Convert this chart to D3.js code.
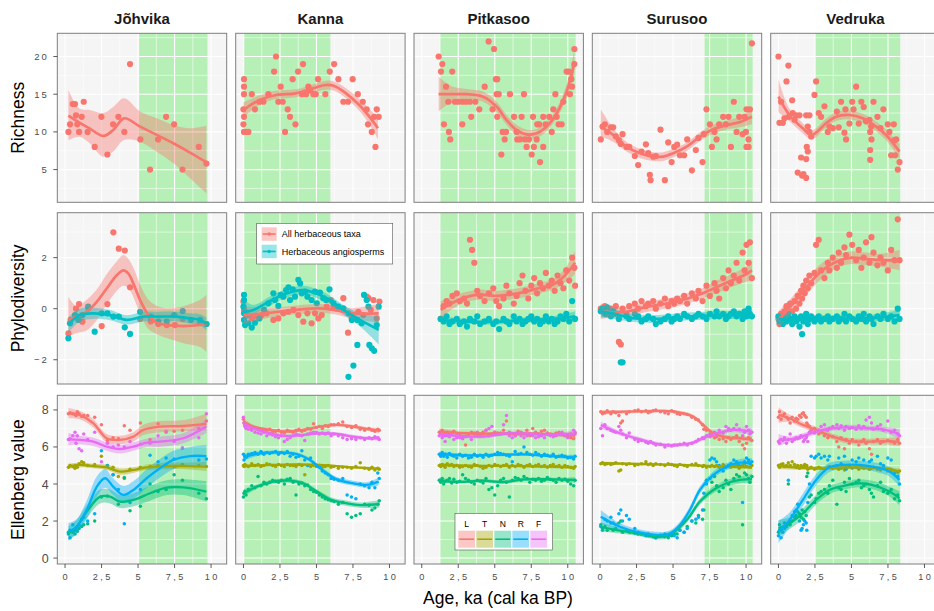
<!DOCTYPE html>
<html>
<head>
<meta charset="utf-8">
<script src="https://cdn.jsdelivr.net/npm/d3@7"></script>
<style>
  body { margin: 0; background: #fff; }
  svg text { font-family: "Liberation Sans", Arial, Helvetica, sans-serif; }
</style>
</head>
<body>
<svg id="chart" width="934" height="611"></svg>
<script>
// ---------------- data ----------------
var sites = ["Jõhvika", "Kanna", "Pitkasoo", "Surusoo", "Vedruka"];
var zoneStart = [5.07, 0.06, 1.27, 7.16, 2.51];
var zoneEnd = [9.75, 5.95, 10.54, 10.45, 8.34];
var xTicks = [0, 2.5, 5, 7.5, 10];
var xTickLabels = ["0", "2,5", "5", "7,5", "10"];
var rowTitles = ["Richness", "Phylodiversity", "Ellenberg value"];
var ellNames = ["L", "T", "N", "R", "F"];
var groupNames = ["All herbaceous taxa", "Herbaceous angiosperms"];

// richness, flat [age, value, ...]
var richJohvika = [0.23,10, 0.34,11, 0.53,13.7, 0.68,13.7, 0.75,12.2, 0.84,11, 0.96,10, 1.14,12, 1.28,14, 1.55,10,
  2.03,8, 2.49,12, 2.9,7, 3.29,11, 3.65,12, 4.06,10, 4.45,19, 5.16,9, 5.82,5, 6.37,9, 6.92,12, 7.47,11, 8.04,5, 9.16,8, 9.68,5.8];
var richKanna = [0.04,17, 0.04,16, 0.04,15, 0,13, 0.04,12, 0,11, 0.04,10, 0.18,10, 0.34,10, 0.57,15, 0.79,13, 1.09,14,
  1.37,14, 1.71,15, 2.1,18, 2.23,20, 2.55,16, 2.39,14, 2.69,14, 2.85,10, 3.03,13, 3.19,12, 3.37,17, 3.56,11, 3.74,18,
  4.08,19, 4.01,15, 4.29,15, 4.45,16, 4.56,15.5, 4.79,15, 4.95,15, 5.11,17, 5.61,15, 5.91,18, 6.21,19, 6.5,17, 6.84,14,
  7.16,14, 7.48,17, 7.83,15, 8.17,14, 8.44,13, 8.53,11, 8.79,10, 8.95,12, 9.13,13, 9.26,12, 9.04,8];
var richPitkasoo = [1.16,20, 1.41,19, 1.32,18, 1.66,16, 2.09,18, 1.82,14, 1.52,11, 1.86,10, 1.95,9, 2.27,14, 2.5,14,
  2.78,14, 3.03,14, 3.3,14, 3.67,14, 2.78,11, 3.39,12, 3.94,13, 4.31,16, 4.58,22, 4.95,21, 5.08,17, 5.17,17, 5.13,15,
  5.27,15, 4.85,13, 5.17,12, 5.54,10, 5.45,7, 5.77,10, 5.68,9, 6.04,15, 6.32,12, 6.5,10, 6.84,12, 6.54,9, 7.0,15, 6.73,9,
  7.07,9, 7.34,9, 7.18,8, 7.53,7, 7.62,12, 7.68,8, 7.87,9, 8.1,6, 8.32,8, 7.91,11, 8.32,12, 8.48,11, 8.73,12, 8.9,10,
  9.01,13, 9.15,15, 9.24,12, 9.37,11, 9.58,11, 9.69,14, 9.92,18, 10.15,15, 10.29,16, 10.45,19, 10.45,21, 10.06,18, 10.24,17, 8.05,11];
var richSurusoo = [0.05,9, 0.17,10.7, 0.33,11, 0.49,10, 0.74,10.6, 0.9,10.6, 1.08,9.4, 1.29,8.9, 1.42,8.4, 1.54,9.7,
  1.81,8, 2.0,8, 2.38,6.8, 2.61,5.6, 2.84,7.4, 3.14,8.35, 3.3,7.2, 3.41,4.3, 3.46,3.6, 3.64,6.7, 3.82,6.8, 4.14,10.3,
  4.44,3.6, 4.67,8.6, 4.9,6, 5.08,8, 5.28,8.3, 5.47,6.9, 5.76,6.9, 5.97,9, 6.29,4.9, 6.56,7.6, 6.74,9.2, 7.02,6, 7.11,9.7,
  7.29,13, 7.52,11, 7.66,8, 7.84,10, 7.98,9, 8.16,11, 8.43,12, 8.62,11, 8.8,12, 8.96,8, 9.16,14, 9.35,10, 9.53,12,
  9.76,9.7, 9.9,12, 10.03,13, 10.26,13, 10.03,8, 10.17,9, 10.17,8, 9.99,10, 10.4,21.75];
var richVedruka = [0,20, 0.68,18.8, 0.55,16.7, 0.18,14, 0.94,14.2, 0.07,11.2, 0.3,11.2, 0.41,11.8, 0.71,12, 0.98,12.5,
  1.21,12.2, 1.44,12.2, 1.1,11.6, 1.9,12.2, 2.12,12.2, 2.01,10.7, 2.12,10, 2.24,9.4, 1.94,8, 2.01,7.4, 1.55,6.6, 1.9,6.4,
  1.32,4.6, 1.62,4.2, 1.9,3.9, 1.71,4.4, 2.58,16.7, 2.47,14.9, 2.76,12.5, 2.92,12, 3.15,13.4, 3.38,10, 3.49,10.7,
  3.72,10.5, 4.0,12.7, 4.13,10.6, 4.29,14, 4.52,9.9, 4.63,9, 4.59,13, 4.86,11.1, 5.05,14, 5.14,13, 5.32,16, 5.5,11.1,
  5.68,14, 5.84,13.3, 6.0,11.4, 6.23,11.6, 6.35,10.7, 6.51,14, 6.28,10, 6.37,9, 6.28,7.6, 6.28,6.3, 6.78,12, 6.99,10.5,
  7.19,13, 7.49,11, 7.6,10, 7.72,6.9, 7.9,11, 7.95,8.9, 8.06,9, 8.17,5, 8.29,6, 7.99,6.9];

// smooth fits [age, fit, lower, upper]
var richJohvikaFit = [[0.23,12.15,8.9,15.56],[0.99,11.22,9.36,13.1],[1.68,10.47,8.5,12.9],[2.62,9.46,6.7,12.5],[3.3,10.25,7.4,13.3],
  [4.04,11.8,8.93,14.45],[5.14,10.7,8.7,12.7],[6.28,9.6,7.37,11.8],[7.42,8.5,5.84,10.9],[8.56,7.25,3.85,10.47],[9.68,5.97,1.85,10.8]];
var richKannaFit = [[0,12.9,11.9,13.9],[1.1,14.23,13.6,14.85],[2.23,14.9,14.35,15.45],[3.6,15.12,14.6,15.65],[4.74,15.78,15.25,16.3],
  [5.65,16.22,15.6,16.8],[6.22,16.09,15.45,16.7],[7.02,15.12,14.45,15.8],[7.93,13.57,12.8,14.35],[8.62,12.02,11.0,13.05],[9.21,10.48,9.0,11.9]];
var richPitkasooFit = [[1.16,15.0,12.7,17.3],[2.0,15.0,13.9,16.1],[3.08,15.0,14.3,15.7],[4.2,14.67,14.0,15.35],[5.13,13.34,12.65,14.0],
  [5.81,11.57,10.9,12.25],[6.5,10.25,9.6,10.9],[7.18,9.68,9.1,10.3],[7.87,9.81,9.2,10.4],[8.55,10.7,10.1,11.3],[9.24,12.47,11.8,13.15],
  [9.92,15.33,14.4,16.3],[10.45,19.1,17.5,20.8]];
var richSurusooFit = [[0.05,10.7,9.4,13.0],[0.9,9.6,8.7,10.5],[1.81,8.04,7.4,8.7],[2.73,7.16,6.55,7.75],[3.64,6.72,6.15,7.3],
  [4.33,6.72,6.15,7.3],[5.01,7.16,6.6,7.75],[5.93,8.04,7.45,8.6],[6.84,9.37,8.8,9.95],[7.75,10.35,9.75,10.95],[8.67,10.9,10.3,11.5],
  [9.58,11.3,10.6,12.0],[10.4,12.0,11.0,13.0]];
var richVedrukaFit = [[0,14.67,12.6,17.0],[0.75,12.24,11.4,13.1],[1.67,10.47,9.8,11.15],[2.24,9.59,9.0,10.2],[2.58,9.9,9.3,10.5],
  [3.26,11.14,10.55,11.75],[3.95,12.02,11.45,12.6],[4.86,12.24,11.65,12.85],[5.77,11.8,11.2,12.4],[6.69,10.69,10.05,11.35],
  [7.37,9.59,8.9,10.3],[8.29,7.38,6.4,8.4]];

// phylodiversity, flat [age, value, ...]
var pdAllJohvika = [0.23,-0.97, 0.38,-0.44, 0.75,0.0, 0.96,0.18, 1.19,-0.51, 1.6,0.01, 2.51,-0.68, 2.9,0.18, 3.31,2.99,
  3.68,2.35, 4.09,2.28, 4.45,0.84, 5.14,-0.4, 5.87,-0.5, 6.39,-0.6, 6.96,-0.64, 7.53,-0.64, 8.06,-0.4, 9.25,-0.55, 9.68,-0.6];
var pdAngJohvika = [0.23,-1.16, 0.34,-0.57, 0.68,-0.25, 0.91,-0.44, 1.19,-0.25, 1.58,0.08, 2.03,-0.9, 2.51,-0.18, 2.9,-0.18,
  3.31,-0.31, 3.68,-0.31, 4.09,-0.73, 4.45,-0.99, 5.14,-0.12, 5.87,-0.31, 6.39,-0.51, 6.96,-0.51, 7.47,-0.25, 8.06,-0.09,
  8.61,-0.44, 9.25,-0.44, 9.68,-0.6];
var pdAllKanna = [0,0.28, 0.04,-0.05, 0.22,-0.25, 0.57,-0.38, 0.91,-0.31, 1.25,-0.25, 1.59,-0.18, 2.05,-0.44, 2.39,-0.38,
  2.73,-0.18, 3.08,-0.12, 3.42,-0.05, 3.76,-0.25, 4.1,-0.51, 4.38,-0.18, 4.67,-0.57, 4.9,-0.18, 5.13,-0.38, 5.36,-0.25,
  5.7,0.08, 5.98,0.34, 6.16,0.08, 6.39,0.01, 6.84,0.41, 7.16,-0.94, 7.42,-0.38, 7.87,-0.12, 8.21,-0.25, 8.44,0.47,
  8.56,0.41, 8.72,-0.05, 8.9,0.34, 9.13,-0.38, 9.31,0.28];
var pdAngKanna = [0.04,0.54, 0.04,0.34, 0,0.08, 0.04,-0.18, 0.04,-0.44, 0.11,-0.64, 0.34,-0.57, 0.57,-0.74, 0.79,-0.55,
  1.09,-0.38, 1.41,-0.05, 1.71,0.21, 2.05,0.6, 2.16,0.34, 2.39,0.11, 2.55,0.54, 2.73,0.47, 2.92,0.73, 3.08,0.84, 3.19,0.34,
  3.37,0.76, 3.53,0.47, 3.76,1.13, 3.88,0.99, 3.99,0.6, 4.22,0.67, 4.38,0.47, 4.67,0.34, 4.9,0.67, 5.02,0.21, 5.24,0.63,
  5.47,0.41, 5.66,0.34, 5.89,0.76, 6.16,0.21, 6.5,0.08, 6.84,0.01, 7.19,-0.18, 7.42,-0.44, 7.8,-0.44, 8.1,-0.57, 8.26,0.54,
  8.44,0.34, 7.8,-1.42, 7.53,-2.23, 7.19,-2.67, 8.62,-1.42, 8.79,-1.55, 8.95,-1.65, 9.13,-0.64, 9.26,0.08, 8.56,0.08];
var pdAllPitkasoo = [1.3,-0.4, 1.5,0.1, 1.7,0.3, 1.9,0.2, 2.1,0.5, 2.4,0.6, 2.6,0.3, 2.9,0.4, 3.1,0.2, 3.3,2.7, 3.45,2.3,
  3.6,1.8, 3.8,0.7, 4.0,0.5, 4.3,0.3, 4.6,0.6, 4.9,0.8, 5.1,0.3, 5.3,0.1, 5.6,0.4, 5.8,0.9, 6.0,0.6, 6.3,0.2, 6.5,0.5,
  6.7,1.0, 6.9,1.3, 7.1,0.7, 7.3,0.4, 7.5,0.9, 7.7,1.2, 7.9,0.6, 8.1,1.0, 8.3,0.8, 8.5,1.4, 8.7,0.9, 8.9,1.1, 9.1,0.7,
  9.3,1.3, 9.5,1.0, 9.7,0.8, 9.9,1.5, 10.1,1.1, 10.3,2.0, 10.45,1.6, 10.5,0.9];
var pdAngPitkasoo = [1.3,-0.4, 1.5,-0.5, 1.7,-0.3, 1.9,-0.6, 2.1,-0.5, 2.4,-0.4, 2.6,-0.6, 2.9,-0.5, 3.1,-0.7, 3.3,-0.4,
  3.6,-0.5, 3.8,-0.3, 4.0,-0.6, 4.3,-0.5, 4.6,-0.4, 4.9,-0.6, 5.1,-0.5, 5.3,-0.8, 5.6,-0.4, 5.8,-0.5, 6.0,-0.6, 6.3,-0.3,
  6.5,-0.5, 6.7,-0.4, 6.9,-0.6, 7.1,-0.5, 7.3,-0.4, 7.5,-0.3, 7.7,-0.5, 7.9,-0.4, 8.1,-0.6, 8.3,-0.5, 8.5,-0.3, 8.7,-0.5,
  8.9,-0.4, 9.1,-0.6, 9.3,-0.5, 9.5,-0.3, 9.7,-0.4, 9.9,-0.2, 10.1,-0.5, 10.3,0.3, 10.5,-0.4];
var pdAllSurusoo = [0.05,0.0, 0.17,-0.1, 0.33,0.1, 0.49,-0.2, 0.74,0.0, 0.9,-0.1, 1.08,0.1, 1.29,-1.3, 1.42,-1.4, 1.54,0.0,
  1.81,-0.2, 2.0,0.1, 2.38,0.2, 2.61,0.0, 2.84,0.3, 3.14,0.1, 3.3,0.2, 3.64,0.3, 3.82,0.0, 4.14,0.2, 4.44,0.4, 4.67,0.1,
  4.9,0.3, 5.08,0.2, 5.28,0.4, 5.47,0.3, 5.76,0.5, 5.97,0.2, 6.29,0.6, 6.56,0.4, 6.74,0.7, 7.02,0.3, 7.29,0.9, 7.52,0.5,
  7.84,1.0, 7.98,0.7, 8.16,0.4, 8.43,1.2, 8.62,0.8, 8.8,1.5, 8.96,1.0, 9.16,1.3, 9.35,1.8, 9.53,1.1, 9.76,2.2, 9.9,1.5,
  10.03,2.5, 10.17,1.8, 10.26,2.6, 10.4,1.2];
var pdAngSurusoo = [0.05,-0.1, 0.17,0.0, 0.33,-0.2, 0.49,0.05, 0.74,-0.3, 0.9,-0.1, 1.08,-0.2, 1.29,-0.4, 1.42,-2.1,
  1.54,-2.1, 1.81,-0.3, 2.0,-0.4, 2.38,-0.2, 2.61,-0.3, 2.84,-0.5, 3.14,-0.4, 3.3,-0.3, 3.64,-0.4, 3.82,-0.6, 4.14,-0.5,
  4.44,-0.4, 4.67,-0.3, 4.9,-0.5, 5.08,-0.4, 5.28,-0.3, 5.47,-0.4, 5.76,-0.2, 5.97,-0.3, 6.29,-0.4, 6.56,-0.3, 6.74,-0.2,
  7.02,-0.3, 7.29,-0.4, 7.52,-0.2, 7.84,-0.3, 7.98,-0.1, 8.16,-0.3, 8.43,-0.2, 8.62,-0.4, 8.8,-0.3, 8.96,-0.2, 9.16,-0.1,
  9.35,-0.3, 9.53,-0.2, 9.76,-0.4, 9.9,-0.1, 10.03,-0.3, 10.17,0.0, 10.26,-0.2, 10.4,-0.3];
var pdAllVedruka = [0,-0.4, 0.07,-0.6, 0.18,-0.2, 0.3,-0.5, 0.41,-0.1, 0.55,0.1, 0.68,-0.3, 0.8,0.2, 0.94,-0.1, 1.1,0.3,
  1.21,0.0, 1.32,0.5, 1.44,0.2, 1.55,0.7, 1.62,0.4, 1.71,0.9, 1.8,0.6, 1.9,1.1, 2.01,0.8, 2.12,1.3, 2.24,1.0, 2.47,1.4,
  2.58,2.5, 2.76,2.7, 2.92,1.5, 3.15,1.2, 3.38,1.8, 3.49,1.5, 3.72,2.0, 4.0,1.6, 4.13,2.2, 4.29,1.8, 4.52,2.4, 4.63,2.1,
  4.86,2.9, 5.05,2.5, 5.32,1.9, 5.5,2.3, 5.68,1.6, 5.84,2.0, 6.0,2.6, 6.23,1.8, 6.37,2.8, 6.51,2.2, 6.78,1.7, 6.99,2.0,
  7.19,1.8, 7.49,1.5, 7.72,2.3, 7.95,1.9, 8.17,3.5, 8.29,1.9];
var pdAngVedruka = [0,-0.3, 0.07,-0.5, 0.18,-0.4, 0.3,-0.6, 0.41,-0.3, 0.55,-0.5, 0.68,-0.2, 0.8,-0.4, 0.94,-0.6, 1.1,-0.3,
  1.21,-0.5, 1.32,-0.4, 1.44,-0.7, 1.55,-0.3, 1.62,-1.0, 1.71,-0.5, 1.8,-0.4, 1.9,-0.2, 2.01,-0.6, 2.12,-0.4, 2.24,-0.3,
  2.47,-0.5, 2.58,-0.4, 2.76,-0.3, 2.92,-0.5, 3.15,-0.4, 3.38,-0.3, 3.49,-0.5, 3.72,-0.4, 4.0,-0.3, 4.13,-0.5, 4.29,-0.4,
  4.52,-0.2, 4.63,-0.5, 4.86,-0.3, 5.05,-0.4, 5.32,-0.5, 5.5,-0.3, 5.68,-0.4, 5.84,-0.2, 6.0,-0.5, 6.23,-0.3, 6.37,-0.4,
  6.51,-0.6, 6.78,-0.3, 6.99,-0.4, 7.19,-0.2, 7.49,-0.4, 7.72,-0.3, 7.95,-0.5, 8.17,0.0, 8.29,-0.4];

var pdAllJohvikaFit = [[0.23,-0.44,-1.1,0.47],[0.8,-0.31,-0.95,0.1],[1.48,-0.12,-0.85,0.35],[2.17,0.27,-0.45,0.75],
  [2.85,0.79,0.15,1.35],[3.54,1.31,0.7,1.85],[3.99,1.5,0.9,2.1],[4.34,1.37,0.8,1.95],[4.68,0.98,0.45,1.6],[5.14,0.34,-0.2,0.95],
  [5.71,-0.25,-0.8,0.35],[6.28,-0.55,-1.0,0.12],[6.96,-0.64,-1.15,0.02],[8.11,-0.68,-1.35,0.1],[9.25,-0.64,-1.5,0.35],[9.68,-0.6,-1.7,0.55]];
var pdAngJohvikaFit = [[0.23,-0.64,-0.95,-0.33],[0.99,-0.25,-0.5,0.0],[1.94,-0.18,-0.4,0.04],[3.08,-0.25,-0.45,-0.05],
  [4.22,-0.44,-0.62,-0.26],[5.36,-0.31,-0.5,-0.12],[6.5,-0.31,-0.5,-0.12],[7.65,-0.31,-0.5,-0.12],[8.56,-0.38,-0.58,-0.18],
  [9.25,-0.44,-0.66,-0.22],[9.68,-0.6,-0.85,-0.35]];
var pdAllKannaFit = [[0,-0.25,-0.6,0.1],[1.5,-0.18,-0.38,0.02],[3.5,-0.05,-0.22,0.12],[5.2,0.01,-0.16,0.18],[6.2,-0.05,-0.22,0.12],
  [7.5,-0.18,-0.38,0.02],[9.26,-0.18,-0.55,0.19]];
var pdAngKannaFit = [[0,-0.12,-0.55,0.35],[0.68,-0.05,-0.25,0.15],[1.82,0.3,0.12,0.48],[2.96,0.6,0.43,0.77],[4.1,0.73,0.56,0.9],
  [5.24,0.54,0.37,0.71],[5.93,0.34,0.17,0.51],[6.84,-0.05,-0.24,0.14],[7.99,-0.44,-0.7,-0.18],[9.26,-0.83,-1.4,-0.28]];
var pdAllPitkasooFit = [[1.3,-0.05,-0.4,0.3],[2.0,0.2,-0.05,0.45],[3.0,0.45,0.25,0.65],[4.0,0.55,0.35,0.75],[5.0,0.5,0.3,0.7],
  [6.0,0.55,0.35,0.75],[7.0,0.65,0.45,0.85],[8.0,0.8,0.6,1.0],[9.0,0.95,0.75,1.15],[9.8,1.3,1.03,1.57],[10.5,1.8,1.35,2.25]];
var pdAngPitkasooFit = [[1.3,-0.45,-0.6,-0.3],[3,-0.5,-0.6,-0.4],[5,-0.52,-0.62,-0.42],[7,-0.45,-0.55,-0.35],[9,-0.4,-0.5,-0.3],
  [10.5,-0.3,-0.5,-0.1]];
var pdAllSurusooFit = [[0.05,-0.1,-0.4,0.2],[1,-0.15,-0.35,0.05],[2,-0.1,-0.3,0.1],[3,0.05,-0.15,0.25],[4,0.15,-0.05,0.35],
  [5,0.25,0.05,0.45],[6,0.4,0.2,0.6],[7,0.6,0.4,0.8],[8,0.85,0.6,1.1],[9,1.1,0.85,1.35],[10,1.35,1.05,1.65],[10.4,1.5,1.1,1.9]];
var pdAngSurusooFit = [[0.05,-0.1,-0.35,0.15],[1,-0.2,-0.4,0.0],[2,-0.35,-0.5,-0.2],[3,-0.4,-0.55,-0.25],[4,-0.4,-0.55,-0.25],
  [5,-0.35,-0.5,-0.2],[6,-0.3,-0.45,-0.15],[7,-0.28,-0.43,-0.13],[8,-0.25,-0.4,-0.1],[9,-0.25,-0.4,-0.1],[10,-0.22,-0.4,-0.05],
  [10.4,-0.2,-0.4,0.0]];
var pdAllVedrukaFit = [[0,-0.45,-0.8,-0.1],[1,0.2,-0.1,0.5],[2,0.9,0.6,1.2],[3,1.5,1.2,1.8],[4,1.85,1.6,2.1],[5,2.0,1.75,2.25],
  [6,1.95,1.7,2.2],[7,1.9,1.65,2.15],[8.29,1.9,1.5,2.3]];
var pdAngVedrukaFit = [[0,-0.4,-0.6,-0.2],[1,-0.45,-0.6,-0.3],[2,-0.4,-0.55,-0.25],[4,-0.38,-0.5,-0.26],[6,-0.38,-0.5,-0.26],
  [8.29,-0.25,-0.45,-0.05]];

// Ellenberg values: sample ages per site, then one array per indicator
var ageJohvika = [0.23,0.34,0.53,0.68,0.75,0.84,0.96,1.14,1.28,1.55,2.03,2.49,2.9,3.29,3.65,4.06,4.45,5.16,5.82,6.37,6.92,7.47,8.04,9.16,9.68];
var ellLJohvika = [7.8,7.85,7.8,7.75,7.7,7.9,7.8,7.65,7.7,7.7,7.6,7.2,6.35,6.5,6.45,7.15,6.9,7.3,6.4,7.25,6.8,6.85,6.9,7.0,7.4];
var ellTJohvika = [4.9,5.0,4.95,4.85,5.0,4.9,5.1,5.2,5.15,5.0,5.05,5.5,5.0,4.9,4.4,4.3,4.8,4.9,4.95,5.0,5.0,4.95,5.05,5.0,4.95];
var ellNJohvika = [1.3,1.5,1.4,1.3,1.5,1.45,1.6,1.7,1.8,1.85,2.0,3.3,3.35,4.5,2.9,4.35,2.55,2.8,4.0,3.6,3.7,4.5,4.2,3.5,3.2];
var ellRJohvika = [1.4,1.1,1.8,1.5,1.6,1.7,1.8,2.1,2.2,2.0,2.4,5.8,5.0,4.5,3.7,1.85,3.0,3.7,5.55,5.2,5.4,5.35,5.95,5.3,5.35];
var ellFJohvika = [6.4,6.45,6.6,6.8,6.2,6.6,5.9,5.8,6.7,6.4,6.8,5.2,6.2,6.0,6.1,6.0,6.3,6.15,6.2,6.6,6.85,6.3,5.95,6.5,7.8];

var ageKanna = [0,0.04,0.1,0.18,0.34,0.57,0.79,1.0,1.2,1.4,1.6,1.8,2.0,2.2,2.4,2.6,2.8,3.0,3.2,3.4,3.6,3.8,4.0,4.2,4.4,
  4.6,4.8,5.0,5.2,5.4,5.6,5.8,6.0,6.2,6.5,6.8,7.1,7.4,7.7,8.0,8.3,8.6,8.8,9.0,9.2,9.3];
var ellLKanna = [7.5,7.3,7.2,7.1,7.15,7.0,7.05,6.95,6.9,6.85,6.9,6.95,6.8,6.85,6.9,6.8,6.75,6.9,6.85,6.8,6.9,6.95,6.85,6.9,7.0,
  6.95,7.25,7.05,7.1,7.0,7.15,7.1,7.2,7.2,7.25,7.35,7.1,7.05,7.15,6.95,6.9,7.0,6.9,6.85,6.95,6.9];
var ellTKanna = [5.0,4.95,5.05,5.0,4.95,5.1,5.0,5.05,4.95,5.0,5.1,5.05,5.0,4.95,5.05,5.0,4.95,5.05,5.0,5.0,4.95,5.05,5.0,4.5,5.0,
  4.95,5.0,4.95,5.0,4.9,4.95,5.0,4.9,4.95,4.85,4.9,4.9,4.85,4.95,5.15,4.85,4.8,4.9,4.75,4.85,4.8];
var ellNKanna = [3.3,3.5,3.6,3.4,3.7,3.9,3.8,4.4,3.9,4.1,4.0,4.1,4.2,4.15,4.1,4.2,4.0,4.25,4.3,4.1,3.4,4.0,4.05,3.9,3.95,
  3.7,3.6,3.55,3.4,3.3,3.2,3.15,3.1,3.05,2.9,3.0,2.4,2.2,2.3,2.4,2.9,2.85,2.6,2.7,2.9,3.1];
var ellRKanna = [5.6,5.3,5.5,5.45,5.6,5.65,5.7,5.6,5.75,5.6,5.7,5.65,5.7,5.75,5.6,5.7,5.65,5.75,5.5,5.6,5.45,5.5,5.8,5.3,5.0,
  5.4,5.1,5.0,4.9,4.7,4.6,4.5,4.3,4.25,4.2,4.3,3.4,3.3,3.2,4.0,3.9,3.8,4.1,3.8,4.6,4.3];
var ellFKanna = [7.6,7.3,7.1,7.0,6.95,6.9,6.8,6.75,6.7,6.8,6.6,6.7,6.65,6.55,6.5,6.6,6.3,6.4,6.5,6.6,6.7,6.65,6.6,6.35,6.7,
  6.75,6.8,6.8,6.7,6.75,6.7,6.75,6.6,6.7,6.6,6.5,6.4,6.45,6.4,6.5,6.4,6.5,6.45,6.55,6.5,6.4];

var agePitkasoo = [1.2,1.3,1.4,1.5,1.6,1.75,1.9,2.05,2.2,2.4,2.6,2.8,3.0,3.2,3.4,3.6,3.8,4.0,4.2,4.4,4.6,4.8,5.0,5.2,5.4,
  5.6,5.8,6.0,6.2,6.4,6.6,6.8,7.0,7.2,7.4,7.6,7.8,8.0,8.2,8.4,8.6,8.8,9.0,9.2,9.4,9.6,9.8,10.0,10.2,10.4,10.5];
var ellLPitkasoo = [6.8,6.7,6.9,6.75,6.6,6.8,6.7,6.75,6.85,6.6,6.7,6.5,6.1,6.7,6.8,6.75,6.6,6.7,6.8,6.9,6.6,6.7,6.8,6.75,6.7,
  6.9,7.4,6.8,6.7,6.6,6.85,6.8,6.7,6.9,6.6,7.0,6.8,6.7,6.85,6.9,6.75,6.7,6.6,6.75,6.8,6.7,6.65,6.6,6.5,6.45,6.7];
var ellTPitkasoo = [5.0,4.95,5.05,5.0,4.9,5.1,5.0,5.05,4.95,5.0,4.9,4.95,5.0,4.95,4.9,5.05,5.0,4.95,4.85,4.9,5.0,4.95,5.05,5.0,4.95,
  5.0,5.05,4.9,5.0,4.95,5.05,5.0,4.9,5.0,5.05,4.95,5.0,5.05,4.95,5.0,4.9,5.0,5.05,4.95,5.0,4.9,5.0,4.95,4.9,4.85,4.95];
var ellNPitkasoo = [4.2,4.1,4.3,4.0,4.15,4.2,4.3,4.05,4.25,4.1,4.15,4.5,4.3,4.2,4.1,4.0,4.2,4.15,4.05,4.3,3.7,3.8,3.4,3.9,4.2,
  4.3,4.1,3.3,4.2,4.35,4.3,4.2,4.4,4.3,4.1,4.25,4.2,4.3,4.15,4.2,4.35,4.25,4.2,4.1,4.3,4.2,4.25,4.15,4.0,3.9,4.2];
var ellRPitkasoo = [5.6,5.5,5.7,5.5,5.6,5.45,5.65,5.55,5.5,5.4,5.6,5.5,5.55,5.4,5.45,5.6,5.5,5.55,5.45,5.6,5.5,5.55,5.6,5.7,5.65,
  5.6,5.55,5.5,5.2,5.75,5.6,5.65,6.0,5.7,5.6,5.55,5.7,5.6,5.5,5.6,5.55,5.5,5.6,5.45,5.5,5.55,5.5,5.4,5.45,5.35,5.5];
var ellFPitkasoo = [6.6,6.7,6.5,6.6,6.3,6.6,6.55,6.7,6.4,6.5,6.5,6.45,6.55,6.6,6.4,6.7,6.8,6.6,6.7,6.9,7.0,7.1,6.8,6.7,6.75,
  7.2,7.7,6.6,6.5,6.6,6.7,6.6,6.5,6.6,6.7,6.6,6.5,6.55,6.6,6.5,6.7,6.6,6.55,6.6,6.7,6.8,6.6,6.5,6.7,6.9,6.8];

var ageSurusoo = [0.05,0.17,0.33,0.49,0.74,0.9,1.08,1.29,1.42,1.54,1.81,2.0,2.38,2.61,2.84,3.14,3.3,3.46,3.64,3.82,4.14,4.44,
  4.67,4.9,5.08,5.28,5.47,5.76,5.97,6.29,6.56,6.74,7.02,7.11,7.29,7.52,7.66,7.84,7.98,8.16,8.43,8.62,8.8,8.96,9.16,9.35,9.53,
  9.76,9.9,10.03,10.17,10.26,10.4];
var ellLSurusoo = [7.9,7.8,7.85,7.95,7.8,7.9,7.85,7.7,7.3,7.4,7.8,7.9,7.95,8.0,7.9,7.95,7.85,7.9,7.95,8.0,7.9,7.85,7.8,7.95,7.9,
  7.8,7.75,7.8,7.75,7.6,7.5,7.45,7.2,6.95,6.9,6.7,6.6,6.5,6.55,6.4,6.45,6.3,6.5,6.4,6.5,6.6,6.3,6.1,5.9,6.2,6.5,6.45,6.35];
var ellTSurusoo = [5.1,5.15,5.05,5.1,5.05,5.1,5.15,4.7,4.75,5.1,5.05,5.1,5.0,5.05,5.1,5.2,5.05,5.1,5.0,5.1,5.05,5.0,5.1,5.05,5.0,
  4.95,5.05,5.0,4.95,5.05,5.1,5.0,4.95,5.0,4.9,4.95,5.0,4.95,5.0,4.9,5.05,4.95,5.0,4.9,4.95,5.0,4.85,5.0,5.1,4.95,5.2,4.9,5.0];
var ellNSurusoo = [1.8,1.6,1.7,1.5,1.9,1.5,1.6,1.9,2.0,1.4,1.5,1.4,1.35,1.3,1.3,1.25,1.2,1.2,1.15,1.1,1.2,1.15,1.1,1.2,1.3,
  1.3,1.5,1.4,1.7,2.0,1.9,2.3,2.1,2.6,4.2,4.3,4.1,4.4,3.9,3.6,3.8,4.2,4.0,3.7,4.3,4.5,4.4,1.8,4.6,4.5,4.3,4.1,4.4];
var ellRSurusoo = [1.7,1.5,2.1,2.0,2.2,1.9,1.8,2.4,2.6,2.0,2.3,2.1,1.6,1.4,1.3,1.2,1.3,1.25,1.2,1.1,1.25,1.3,1.2,1.3,1.2,
  1.1,1.5,1.4,1.6,2.0,2.1,2.2,2.6,3.5,4.0,5.3,5.4,5.35,5.2,5.0,4.7,4.9,5.0,5.1,5.3,5.2,5.0,3.0,5.2,5.4,5.3,5.1,5.2];
var ellFSurusoo = [7.0,6.6,7.2,7.0,6.9,6.85,6.8,7.1,6.9,6.7,6.5,6.75,6.4,6.3,6.35,6.25,6.2,6.3,6.2,6.1,6.15,6.0,6.1,6.05,6.1,
  6.1,6.15,6.2,6.1,6.2,6.3,6.4,6.5,6.45,6.6,6.55,6.7,6.8,6.65,6.9,6.75,7.1,7.0,6.9,7.0,7.2,6.95,6.6,6.8,7.1,6.9,6.7,6.8];

var ageVedruka = [0,0.07,0.18,0.3,0.41,0.55,0.68,0.8,0.94,1.1,1.21,1.32,1.44,1.55,1.62,1.71,1.8,1.9,1.94,2.01,2.12,2.24,2.47,
  2.58,2.76,2.92,3.15,3.38,3.49,3.72,4.0,4.13,4.29,4.52,4.63,4.86,5.05,5.32,5.5,5.68,5.84,6.0,6.23,6.37,6.51,6.78,6.99,7.19,
  7.49,7.72,7.95,8.17,8.29];
var ellLVedruka = [7.6,7.9,7.5,7.7,7.8,7.6,7.5,7.3,7.6,7.4,7.55,7.5,7.7,7.6,7.8,7.85,7.7,7.6,7.3,7.2,7.1,6.9,7.0,6.9,6.7,
  6.8,6.6,6.5,6.6,6.55,6.3,6.0,6.5,5.9,6.4,6.2,6.4,6.3,6.1,6.3,6.4,6.2,5.9,5.6,6.3,6.4,6.2,6.3,6.35,6.3,6.2,6.4,6.2];
var ellTVedruka = [5.0,4.9,5.05,5.1,4.95,5.0,5.15,5.0,5.2,5.05,4.9,5.0,4.85,5.0,4.9,4.95,5.05,4.9,5.0,4.8,4.85,4.9,4.8,4.85,4.9,
  4.85,4.8,4.9,4.95,4.85,4.9,4.8,4.85,4.75,4.9,5.0,4.85,4.9,4.8,4.9,4.85,4.9,4.8,4.85,4.9,4.8,4.75,4.9,4.7,4.75,4.6,4.65,4.7];
var ellNVedruka = [1.4,1.8,1.5,1.6,1.9,1.7,4.0,1.8,2.0,2.2,2.3,2.5,2.4,2.2,2.6,2.1,2.5,2.3,4.4,4.6,3.3,3.4,3.0,3.2,3.5,
  3.6,3.7,3.5,3.9,4.2,2.9,3.8,3.7,4.1,3.6,4.3,4.0,4.1,4.2,3.8,3.9,4.0,3.7,3.5,3.3,3.9,4.1,3.6,3.5,3.7,3.2,3.4,3.1];
var ellRVedruka = [1.2,1.5,1.1,1.4,1.6,1.8,4.2,2.0,2.3,2.5,2.6,2.9,2.0,1.5,1.6,1.8,2.0,1.9,1.5,3.0,4.0,5.5,5.4,5.5,5.6,
  5.4,5.5,5.3,5.5,4.9,5.0,5.4,5.1,5.5,4.8,5.0,5.3,5.2,5.4,5.0,5.3,4.9,5.2,5.3,4.9,5.5,5.1,5.0,5.4,5.3,4.6,4.4,4.0];
var ellFVedruka = [6.3,6.2,6.4,6.35,6.5,6.2,6.4,6.7,6.3,6.4,6.5,6.45,6.5,6.6,6.55,6.3,6.4,6.5,6.6,6.3,6.8,6.9,6.75,6.85,6.9,
  7.1,7.2,6.9,7.0,7.1,7.2,7.0,7.15,6.9,7.1,7.0,7.05,6.95,7.15,7.0,7.1,7.45,7.6,7.3,6.95,7.1,7.2,6.9,7.4,6.8,6.9,6.7,6.6];

// Ellenberg smooth fits [age, fit, lower, upper]
var ellLJohvikaFit = [[0.23,7.82,7.55,8.1],[0.99,7.73,7.5,7.95],[1.94,7.28,7.05,7.5],[2.85,6.47,6.25,6.7],[3.76,6.38,6.15,6.6],
  [4.68,6.56,6.3,6.8],[5.36,6.92,6.65,7.2],[6.5,7.1,6.8,7.4],[8.11,7.14,6.85,7.45],[9.68,7.25,6.9,7.8]];
var ellTJohvikaFit = [[0.23,4.94,4.8,5.1],[0.99,5.03,4.9,5.15],[1.94,4.97,4.85,5.1],[2.85,4.9,4.75,5.05],[3.76,4.67,4.5,4.85],
  [4.68,4.76,4.6,4.9],[5.59,4.9,4.75,5.05],[6.96,4.97,4.8,5.15],[8.33,4.97,4.8,5.15],[9.68,4.94,4.7,5.2]];
var ellNJohvikaFit = [[0.23,1.33,0.95,1.7],[0.79,1.69,1.35,2.05],[1.48,2.5,2.15,2.85],[2.4,3.32,2.95,3.7],[3.08,3.32,2.95,3.7],
  [3.76,3.05,2.7,3.4],[4.68,3.14,2.8,3.5],[5.82,3.5,3.1,3.9],[6.96,3.8,3.4,4.2],[8.11,3.82,3.4,4.25],[9.68,3.59,3.05,4.15]];
var ellRJohvikaFit = [[0.23,1.42,0.95,1.9],[0.79,1.69,1.3,2.1],[1.48,2.59,2.1,3.1],[2.17,3.85,3.3,4.4],[2.74,4.31,3.8,4.8],
  [3.31,3.85,3.4,4.3],[3.99,3.41,2.95,3.9],[4.68,3.68,3.2,4.15],[5.59,4.31,3.8,4.8],[6.5,4.85,4.35,5.35],[7.42,5.3,4.8,5.8],
  [8.56,5.51,5.0,6.0],[9.68,5.51,4.9,6.1]];
var ellFJohvikaFit = [[0.23,6.41,6.1,6.75],[0.99,6.38,6.15,6.6],[1.94,6.29,6.05,6.5],[2.85,6.02,5.8,6.25],[3.76,5.89,5.65,6.1],
  [4.68,6.02,5.8,6.25],[5.59,6.23,6.0,6.45],[6.5,6.29,6.0,6.55],[8.11,6.47,6.2,6.75],[9.68,7.1,6.75,7.5]];

var ellLKannaFit = [[0,7.37,7.2,7.55],[0.68,7.1,7.0,7.2],[1.82,6.92,6.83,7.01],[2.96,6.83,6.75,6.91],[4.1,6.92,6.84,7.0],
  [5.24,7.1,7.02,7.18],[6.39,7.19,7.1,7.28],[7.53,7.1,7.0,7.2],[8.67,6.95,6.85,7.05],[9.31,6.88,6.74,7.02]];
var ellTKannaFit = [[0,4.97,4.9,5.04],[2.96,5.05,5.0,5.1],[5.24,5.03,4.98,5.08],[7.53,4.9,4.84,4.96],[9.31,4.83,4.74,4.92]];
var ellNKannaFit = [[0,3.5,3.3,3.7],[0.91,3.86,3.74,3.98],[2.05,4.13,4.02,4.24],[3.19,4.18,4.07,4.29],[4.1,4.04,3.93,4.15],
  [5.02,3.59,3.47,3.71],[5.93,3.17,3.04,3.3],[6.84,2.99,2.85,3.13],[7.99,2.86,2.72,3.0],[9.31,2.92,2.72,3.12]];
var ellRKannaFit = [[0,5.44,5.25,5.63],[1.14,5.66,5.55,5.77],[2.51,5.7,5.6,5.8],[3.65,5.62,5.52,5.72],[4.56,5.3,5.2,5.4],
  [5.47,4.72,4.6,4.84],[6.39,4.25,4.12,4.38],[7.53,4.04,3.9,4.18],[8.44,3.95,3.8,4.1],[9.26,4.13,3.92,4.34]];
var ellFKannaFit = [[0,7.28,7.1,7.45],[0.68,7.01,6.9,7.12],[1.82,6.74,6.65,6.83],[2.96,6.59,6.5,6.68],[4.1,6.65,6.57,6.73],
  [5.24,6.74,6.66,6.82],[6.39,6.7,6.6,6.8],[7.53,6.56,6.46,6.66],[8.44,6.47,6.37,6.57],[9.31,6.47,6.33,6.61]];

var ellLPitkasooFit = [[1.2,6.83,6.65,7.0],[3,6.74,6.65,6.83],[5,6.72,6.63,6.81],[7,6.72,6.63,6.81],[9,6.68,6.58,6.78],[10.5,6.62,6.45,6.8]];
var ellTPitkasooFit = [[1.2,5.03,4.93,5.13],[4,4.98,4.92,5.04],[7,4.97,4.91,5.03],[10.5,4.9,4.8,5.0]];
var ellNPitkasooFit = [[1.2,4.2,4.05,4.35],[2.5,4.11,4.02,4.2],[4.2,4.18,4.09,4.27],[5.5,4.1,4.0,4.2],[7,4.25,4.16,4.34],
  [9,4.25,4.16,4.34],[10.5,4.22,4.07,4.37]];
var ellRPitkasooFit = [[1.2,5.62,5.5,5.75],[3,5.55,5.47,5.63],[5,5.57,5.49,5.65],[7,5.6,5.52,5.68],[9,5.5,5.42,5.58],[10.5,5.44,5.3,5.58]];
var ellFPitkasooFit = [[1.2,6.72,6.55,6.9],[2.5,6.6,6.5,6.7],[4.2,6.56,6.46,6.66],[6,6.74,6.64,6.84],[7.7,6.7,6.6,6.8],
  [9.2,6.66,6.56,6.76],[10.5,6.72,6.55,6.9]];

var ellLSurusooFit = [[0.05,7.87,7.75,8.0],[1.36,7.9,7.8,8.0],[2.73,7.92,7.83,8.01],[4.33,7.95,7.86,8.04],[5.47,7.86,7.77,7.95],
  [6.38,7.64,7.54,7.74],[7.06,7.19,7.07,7.31],[7.75,6.74,6.62,6.86],[8.67,6.52,6.4,6.64],[9.58,6.47,6.35,6.59],[10.4,6.41,6.25,6.57]];
var ellTSurusooFit = [[0.05,5.12,5.02,5.22],[2.73,5.08,5.02,5.14],[5.47,5.03,4.97,5.09],[8.21,4.95,4.89,5.01],[10.4,4.9,4.8,5.0]];
var ellNSurusooFit = [[0.05,1.69,1.45,1.93],[1.36,1.48,1.33,1.63],[2.73,1.32,1.18,1.46],[4.1,1.15,1.0,1.3],[5.01,1.37,1.22,1.52],
  [5.93,2.05,1.9,2.2],[6.84,3.05,2.88,3.22],[7.75,3.68,3.5,3.86],[8.67,4.04,3.86,4.22],[9.58,4.22,4.03,4.41],[10.4,4.27,4.0,4.54]];
var ellRSurusooFit = [[0.05,2.23,1.85,2.6],[1.36,1.69,1.5,1.88],[2.73,1.37,1.2,1.54],[4.1,1.24,1.07,1.41],[4.78,1.32,1.15,1.49],
  [5.47,1.78,1.6,1.96],[6.15,2.59,2.4,2.78],[6.84,3.68,3.48,3.88],[7.75,4.49,4.3,4.68],[8.67,4.94,4.75,5.13],[9.58,5.15,4.95,5.35],
  [10.4,5.12,4.85,5.39]];
var ellFSurusooFit = [[0.05,7.19,7.0,7.38],[1.36,6.74,6.62,6.86],[2.73,6.41,6.3,6.52],[4.33,6.11,6.01,6.21],[5.47,6.11,6.01,6.21],
  [6.38,6.23,6.12,6.34],[7.29,6.56,6.44,6.68],[8.21,6.77,6.65,6.89],[9.12,6.92,6.8,7.04],[10.4,6.83,6.65,7.01]];

var ellLVedrukaFit = [[0,7.73,7.3,8.15],[0.75,7.55,7.35,7.75],[1.67,7.19,7.02,7.36],[2.58,6.92,6.75,7.09],[3.72,6.56,6.4,6.72],
  [4.86,6.32,6.16,6.48],[6.0,6.29,6.13,6.45],[7.15,6.32,6.15,6.49],[8.29,6.29,6.05,6.53]];
var ellTVedrukaFit = [[0,4.97,4.8,5.14],[2.58,4.85,4.75,4.95],[4.86,4.9,4.81,4.99],[7.15,4.85,4.75,4.95],[8.29,4.67,4.5,4.84]];
var ellNVedrukaFit = [[0,1.6,1.15,2.05],[0.75,1.87,1.55,2.2],[1.67,2.41,2.13,2.69],[2.58,3.14,2.88,3.4],[3.49,3.68,3.45,3.91],
  [4.4,3.89,3.67,4.11],[5.54,4.04,3.82,4.26],[6.69,3.89,3.66,4.12],[7.6,3.59,3.33,3.85],[8.29,3.23,2.85,3.61]];
var ellRVedrukaFit = [[0,1.42,0.8,2.0],[0.75,2.05,1.65,2.45],[1.67,3.14,2.8,3.48],[2.58,4.22,3.92,4.52],[3.49,4.9,4.65,5.15],
  [4.4,5.03,4.8,5.26],[5.54,5.03,4.8,5.26],[6.69,4.9,4.65,5.15],[7.6,4.67,4.4,4.94],[8.29,4.22,3.85,4.6]];
var ellFVedrukaFit = [[0,6.38,6.05,6.7],[0.75,6.41,6.25,6.57],[1.67,6.59,6.44,6.74],[2.58,6.83,6.68,6.98],[3.72,7.01,6.87,7.15],
  [4.86,7.06,6.92,7.2],[6.0,7.01,6.86,7.16],[7.15,6.95,6.8,7.1],[8.29,6.7,6.45,6.95]];

// ---------------- tables built from the arrays ----------------
var richPts = [richJohvika, richKanna, richPitkasoo, richSurusoo, richVedruka];
var richFits = [richJohvikaFit, richKannaFit, richPitkasooFit, richSurusooFit, richVedrukaFit];
var pdPts = [[pdAllJohvika, pdAngJohvika], [pdAllKanna, pdAngKanna], [pdAllPitkasoo, pdAngPitkasoo],
             [pdAllSurusoo, pdAngSurusoo], [pdAllVedruka, pdAngVedruka]];
var pdFits = [[pdAllJohvikaFit, pdAngJohvikaFit], [pdAllKannaFit, pdAngKannaFit], [pdAllPitkasooFit, pdAngPitkasooFit],
              [pdAllSurusooFit, pdAngSurusooFit], [pdAllVedrukaFit, pdAngVedrukaFit]];
var ellAges = [ageJohvika, ageKanna, agePitkasoo, ageSurusoo, ageVedruka];
var ellVals = [[ellLJohvika, ellTJohvika, ellNJohvika, ellRJohvika, ellFJohvika],
               [ellLKanna, ellTKanna, ellNKanna, ellRKanna, ellFKanna],
               [ellLPitkasoo, ellTPitkasoo, ellNPitkasoo, ellRPitkasoo, ellFPitkasoo],
               [ellLSurusoo, ellTSurusoo, ellNSurusoo, ellRSurusoo, ellFSurusoo],
               [ellLVedruka, ellTVedruka, ellNVedruka, ellRVedruka, ellFVedruka]];
var ellFits = [[ellLJohvikaFit, ellTJohvikaFit, ellNJohvikaFit, ellRJohvikaFit, ellFJohvikaFit],
               [ellLKannaFit, ellTKannaFit, ellNKannaFit, ellRKannaFit, ellFKannaFit],
               [ellLPitkasooFit, ellTPitkasooFit, ellNPitkasooFit, ellRPitkasooFit, ellFPitkasooFit],
               [ellLSurusooFit, ellTSurusooFit, ellNSurusooFit, ellRSurusooFit, ellFSurusooFit],
               [ellLVedrukaFit, ellTVedrukaFit, ellNVedrukaFit, ellRVedrukaFit, ellFVedrukaFit]];

function pairs(flat) {
  var out = [];
  for (var i = 0; i < flat.length; i += 2) out.push([flat[i], flat[i + 1]]);
  return out;
}

// ---------------- layout ----------------
var groupColors = ["#F8766D", "#00BFC4"];
var ellColors = ["#F8766D", "#A3A500", "#00BF7D", "#00B0F6", "#E76BF3"];
var colX = [57.3, 235.7, 414, 592.3, 770.7], panelW = 169.4;
var rowTop = [33.3, 212.7, 395.3], rowBot = [202.3, 384, 564];
var xDomain = [-0.53, 11.07];
var yDomains = [[0.66, 23.08], [-2.95, 3.76], [-0.32, 8.79]];
var yMajor = [[5, 10, 15, 20], [-2, 0, 2], [0, 2, 4, 6, 8]];
var yMinor = [[2.5, 7.5, 12.5, 17.5, 22.5], [-3, -1, 1, 3], [1, 3, 5, 7]];
var xMinor = [1.25, 3.75, 6.25, 8.75];

var svg = d3.select("#chart");
var defs = svg.append("defs");

function drawSmooth(g, x, y, fit, color, lw) {
  var area = d3.area().x(function(d){ return x(d[0]); })
    .y0(function(d){ return y(d[2]); }).y1(function(d){ return y(d[3]); })
    .curve(d3.curveCatmullRom.alpha(0.5));
  var line = d3.line().x(function(d){ return x(d[0]); }).y(function(d){ return y(d[1]); })
    .curve(d3.curveCatmullRom.alpha(0.5));
  g.append("path").attr("d", area(fit)).attr("fill", color).attr("fill-opacity", 0.4);
  return function(){
    g.append("path").attr("d", line(fit)).attr("fill", "none")
      .attr("stroke", color).attr("stroke-width", lw).attr("stroke-linecap", "butt");
  };
}

function drawPoints(g, x, y, pts, color, r) {
  g.selectAll(null).data(pts).enter().append("circle")
    .attr("cx", function(d){ return x(d[0]); }).attr("cy", function(d){ return y(d[1]); })
    .attr("r", r).attr("fill", color);
}

for (var r = 0; r < 3; r++) {
  for (var c = 0; c < 5; c++) {
    var x = d3.scaleLinear().domain(xDomain).range([colX[c], colX[c] + panelW]);
    var y = d3.scaleLinear().domain(yDomains[r]).range([rowBot[r], rowTop[r]]);
    var ph = rowBot[r] - rowTop[r];
    var g = svg.append("g");
    var clipId = "clip" + r + c;
    defs.append("clipPath").attr("id", clipId).append("rect")
      .attr("x", colX[c]).attr("y", rowTop[r]).attr("width", panelW).attr("height", ph);

    g.append("rect").attr("x", colX[c]).attr("y", rowTop[r]).attr("width", panelW).attr("height", ph)
      .attr("fill", "#F5F5F5");
    // pollen zone
    g.append("rect").attr("x", x(zoneStart[c])).attr("y", rowTop[r])
      .attr("width", x(zoneEnd[c]) - x(zoneStart[c])).attr("height", ph)
      .attr("fill", "#90EE90").attr("fill-opacity", 0.62);

    // grid
    var grid = g.append("g").attr("stroke", "#fff");
    xMinor.forEach(function(v){
      grid.append("line").attr("x1", x(v)).attr("x2", x(v)).attr("y1", rowTop[r]).attr("y2", rowBot[r]).attr("stroke-width", 0.55);
    });
    yMinor[r].forEach(function(v){
      if (v < yDomains[r][0] || v > yDomains[r][1]) return;
      grid.append("line").attr("y1", y(v)).attr("y2", y(v)).attr("x1", colX[c]).attr("x2", colX[c] + panelW).attr("stroke-width", 0.55);
    });
    xTicks.forEach(function(v){
      grid.append("line").attr("x1", x(v)).attr("x2", x(v)).attr("y1", rowTop[r]).attr("y2", rowBot[r]).attr("stroke-width", 1.1);
    });
    yMajor[r].forEach(function(v){
      grid.append("line").attr("y1", y(v)).attr("y2", y(v)).attr("x1", colX[c]).attr("x2", colX[c] + panelW).attr("stroke-width", 1.1);
    });

    var layer = g.append("g").attr("clip-path", "url(#" + clipId + ")");
    var lineFns = [];
    if (r === 0) {
      drawPoints(layer, x, y, pairs(richPts[c]), groupColors[0], 3.1);
      lineFns.push(drawSmooth(layer, x, y, richFits[c], groupColors[0], 2.7));
    } else if (r === 1) {
      drawPoints(layer, x, y, pairs(pdPts[c][0]), groupColors[0], 3.1);
      drawPoints(layer, x, y, pairs(pdPts[c][1]), groupColors[1], 3.1);
      lineFns.push(drawSmooth(layer, x, y, pdFits[c][0], groupColors[0], 2.7));
      lineFns.push(drawSmooth(layer, x, y, pdFits[c][1], groupColors[1], 2.7));
    } else {
      for (var k = 0; k < 5; k++) {
        var ages = ellAges[c], vals = ellVals[c][k];
        drawPoints(layer, x, y, ages.map(function(a, i){ return [a, vals[i]]; }), ellColors[k], 1.75);
      }
      for (var k2 = 0; k2 < 5; k2++) {
        lineFns.push(drawSmooth(layer, x, y, ellFits[c][k2], ellColors[k2], 2.3));
      }
    }
    lineFns.forEach(function(f){ f(); });

    g.append("rect").attr("x", colX[c]).attr("y", rowTop[r]).attr("width", panelW).attr("height", ph)
      .attr("fill", "none").attr("stroke", "#7F7F7F").attr("stroke-width", 1);

    // y axis on first column
    if (c === 0) {
      var big = (r === 2);
      yMajor[r].forEach(function(v){
        g.append("line").attr("x1", colX[0] - 4).attr("x2", colX[0]).attr("y1", y(v)).attr("y2", y(v))
          .attr("stroke", "#333").attr("stroke-width", 0.8);
        g.append("text").attr("x", colX[0] - 8.5).attr("y", y(v)).attr("dy", "0.36em")
          .attr("text-anchor", "end").attr("font-size", big ? 12.5 : 9.5)
          .attr("letter-spacing", big ? 0 : 2)
          .attr("fill", "#4D4D4D").text(v < 0 ? "\u2212" + Math.abs(v) : String(v));
      });
      svg.append("text").attr("transform", "translate(23.5," + ((rowTop[r] + rowBot[r]) / 2) + ") rotate(-90)")
        .attr("text-anchor", "middle").attr("font-size", 17.5).attr("fill", "#000").text(rowTitles[r]);
    }
    // x axis on bottom row
    if (r === 2) {
      xTicks.forEach(function(v, i){
        g.append("line").attr("x1", x(v)).attr("x2", x(v)).attr("y1", rowBot[2]).attr("y2", rowBot[2] + 4)
          .attr("stroke", "#333").attr("stroke-width", 0.8);
        g.append("text").attr("x", x(v) + 1.2).attr("y", 580.2).attr("text-anchor", "middle")
          .attr("font-size", 9.2).attr("letter-spacing", 2.4).attr("fill", "#4D4D4D").text(xTickLabels[i]);
      });
    }
    // strip titles
    if (r === 0) {
      svg.append("text").attr("x", colX[c] + panelW / 2).attr("y", 23.5).attr("text-anchor", "middle")
        .attr("font-size", 15).attr("font-weight", "bold").attr("fill", "#1A1A1A").text(sites[c]);
    }
  }
}

svg.append("text").attr("x", 498).attr("y", 604).attr("text-anchor", "middle")
  .attr("font-size", 17.5).attr("fill", "#000").text("Age, ka (cal ka BP)");

// legend: taxon groups (inside Kanna phylodiversity panel)
var lg = svg.append("g").attr("transform", "translate(256.7,223.3)");
lg.append("rect").attr("width", 136).attr("height", 40.7).attr("fill", "#fff").attr("stroke", "#555").attr("stroke-width", 0.6);
groupNames.forEach(function(name, i){
  var ky = 4 + i * 17.4;
  lg.append("rect").attr("x", 5).attr("y", ky).attr("width", 15).attr("height", 13.5)
    .attr("fill", groupColors[i]).attr("fill-opacity", 0.4);
  lg.append("line").attr("x1", 6).attr("x2", 19).attr("y1", ky + 6.75).attr("y2", ky + 6.75)
    .attr("stroke", groupColors[i]).attr("stroke-width", 1.6);
  lg.append("circle").attr("cx", 12.5).attr("cy", ky + 6.75).attr("r", 1.7).attr("fill", groupColors[i]);
  lg.append("text").attr("x", 25).attr("y", ky + 6.75).attr("dy", "0.35em").attr("font-size", 9)
    .attr("fill", "#000").text(name);
});

// legend: Ellenberg indicators (inside Pitkasoo Ellenberg panel)
var le = svg.append("g").attr("transform", "translate(455,513.3)");
le.append("rect").attr("width", 97.7).attr("height", 36.7).attr("fill", "#fff").attr("stroke", "#555").attr("stroke-width", 0.6);
ellNames.forEach(function(name, i){
  var kx = 3.3 + i * 18;
  le.append("text").attr("x", kx + 8.4).attr("y", 10.7).attr("dy", "0.35em").attr("text-anchor", "middle")
    .attr("font-size", 8.5).attr("fill", "#000").text(name);
  le.append("rect").attr("x", kx).attr("y", 17.4).attr("width", 16.8).attr("height", 17)
    .attr("fill", ellColors[i]).attr("fill-opacity", 0.4);
  le.append("line").attr("x1", kx + 1).attr("x2", kx + 15.8).attr("y1", 25.9).attr("y2", 25.9)
    .attr("stroke", ellColors[i]).attr("stroke-width", 1.6);
});
</script>
</body>
</html>
